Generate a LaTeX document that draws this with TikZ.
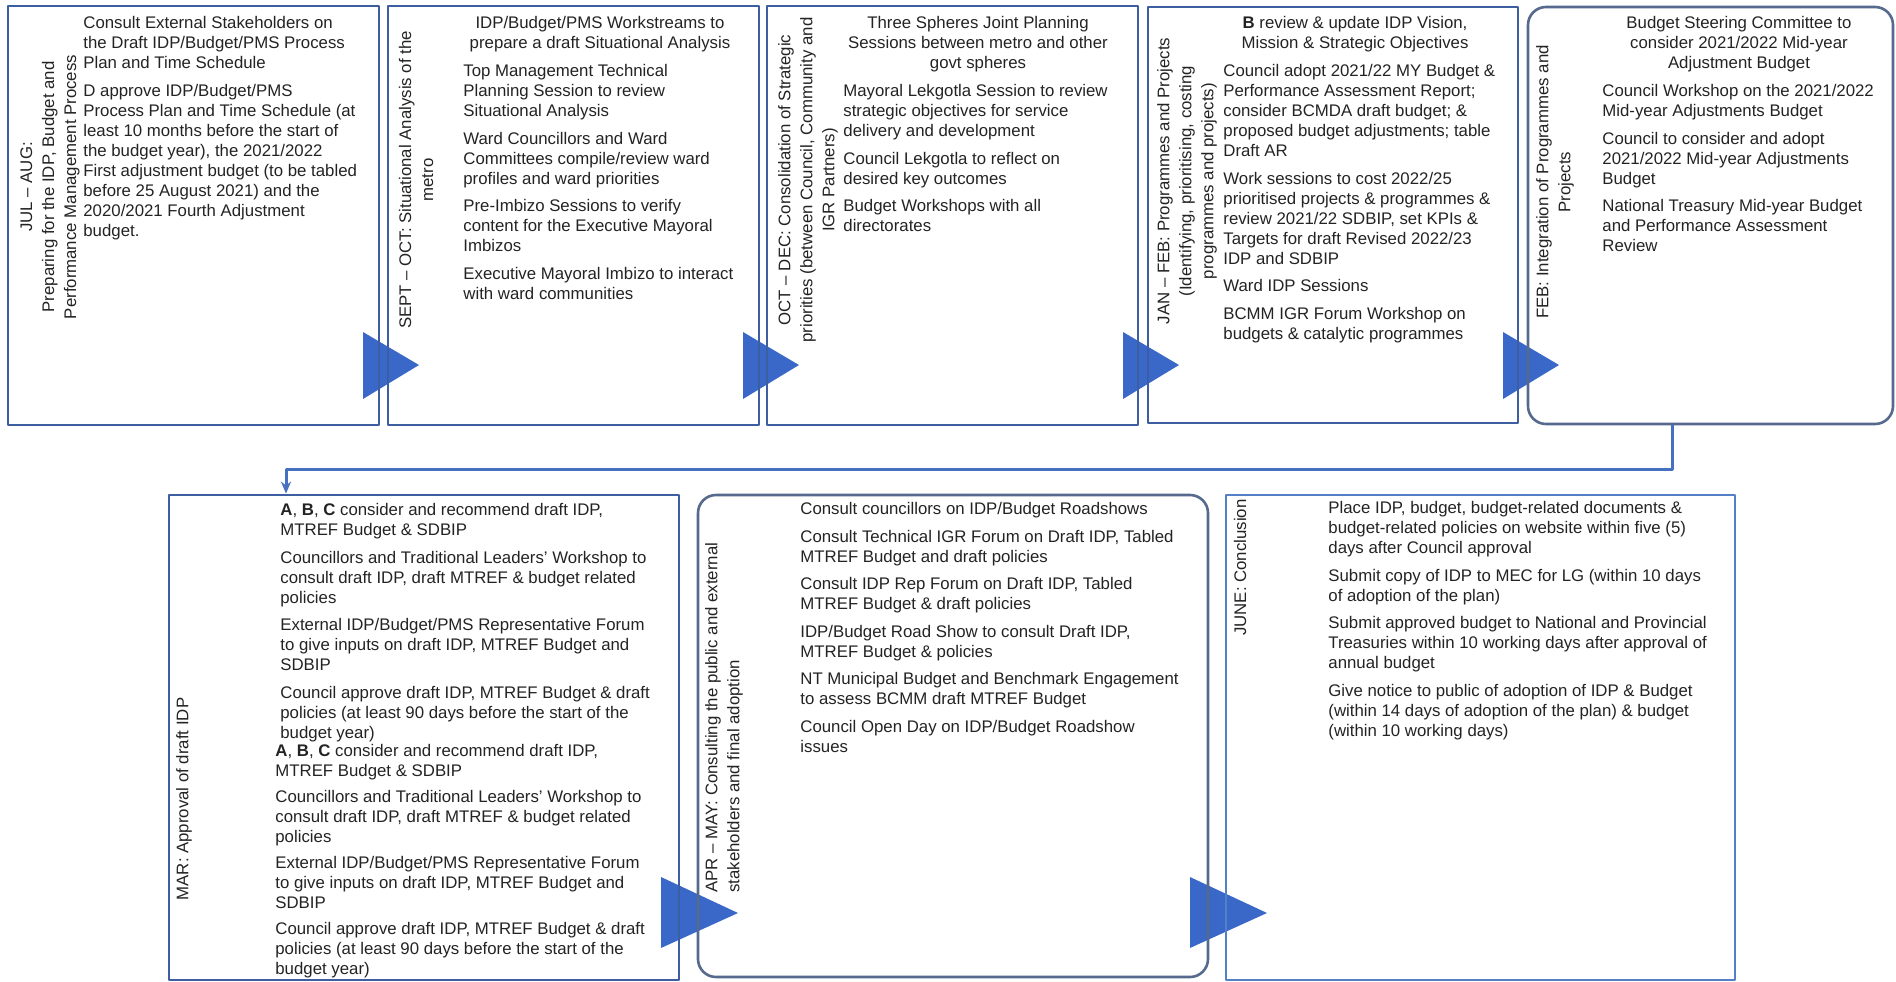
\documentclass[tikz,border=0pt]{standalone}
\usepackage{fontspec}
\setmainfont{Liberation Sans}
\usepackage{xcolor}
\usetikzlibrary{arrows.meta,fit}

\definecolor{boxblue}{RGB}{62,94,162}
\definecolor{junblue}{RGB}{84,128,200}
\definecolor{roundline}{RGB}{86,106,142}
\definecolor{tripblue}{RGB}{58,104,200}
\definecolor{linkblue}{RGB}{70,112,192}
\definecolor{ink}{RGB}{35,35,35}

\newcommand{\itemgap}{\\[3.8pt]}
\newcommand{\tightgap}{\\[3pt]}

\begin{document}
\begin{tikzpicture}[x=0.5pt,y=-0.5pt,>=Stealth,line join=round,
  stagebox/.style={draw=boxblue,line width=1.4pt,inner sep=0pt},
  roundbox/.style={draw=roundline,line width=1.3pt,rounded corners=9pt,inner sep=0pt},
  phase/.style={rotate=90,align=center,inner sep=0pt,text=ink,font=\fontsize{8.4}{11}\selectfont},
  steps/.style={anchor=north west,align=left,inner sep=0pt,text=ink,font=\fontsize{8.4}{10}\selectfont},
  lead/.style={anchor=north,align=center,inner sep=0pt,text=ink,font=\fontsize{8.4}{10}\selectfont},
  pointer/.style={fill=tripblue},
  link/.style={draw=linkblue,line width=1.5pt,-{Stealth[length=6pt,width=5pt]}}]
  \useasboundingbox (0,0) rectangle (1896,981);
  \fill[pointer] (363,332) -- (419,365) -- (363,399) -- cycle;
  \fill[pointer] (743,332) -- (799,365) -- (743,399) -- cycle;
  \fill[pointer] (1123,332) -- (1179,365) -- (1123,399) -- cycle;
  \fill[pointer] (1503,332) -- (1559,365) -- (1503,399) -- cycle;
  \fill[pointer] (661,877) -- (738,913) -- (661,948) -- cycle;
  \fill[pointer] (1190,877) -- (1267,913) -- (1190,948) -- cycle;
  \node[stagebox,fit={(8,6) (379,425)}] (jul) {};
  \node[stagebox,fit={(388,6) (759,425)}] (sep) {};
  \node[stagebox,fit={(767,6) (1138,425)}] (oct) {};
  \node[stagebox,fit={(1148,7) (1518,423)}] (jan) {};
  \node[roundbox,fit={(1528,7) (1893,424)}] (feb) {};
  \node[stagebox,fit={(169,495) (679,980)}] (mar) {};
  \node[roundbox,fit={(698,495) (1208,977)}] (apr) {};
  \node[stagebox,draw=junblue,fit={(1226,495) (1735,980)}] (jun) {};
  \coordinate (tap) at (1672,0);
  \coordinate (bend) at (286,469);
  \draw[link] (feb.south -| tap) |- (bend) -- (mar.north -| bend);
  \node[phase] (julT) at (50,187) {JUL \textendash{} AUG:\\Preparing for the IDP, Budget and\\Performance Management Process};
  \node[steps] (julS) at (83,16) {Consult External Stakeholders on\\the Draft IDP/Budget/PMS Process\\Plan and Time Schedule\itemgap D approve IDP/Budget/PMS\\Process Plan and Time Schedule (at\\least 10 months before the start of\\the budget year), the 2021/2022\\First adjustment budget (to be tabled\\before 25 August 2021) and the\\2020/2021 Fourth Adjustment\\budget.};
  \node[phase] (sepT) at (416,180) {SEPT \textendash{} OCT: Situational Analysis of the\\metro};
  \node[lead] (sepH) at (600,16) {IDP/Budget/PMS Workstreams to\\prepare a draft Situational Analysis};
  \node[steps] (sepS) at (463,64) {Top Management Technical\\Planning Session to review\\Situational Analysis\itemgap Ward Councillors and Ward\\Committees compile/review ward\\profiles and ward priorities\itemgap Pre-Imbizo Sessions to verify\\content for the Executive Mayoral\\Imbizos\itemgap Executive Mayoral Imbizo to interact\\with ward communities};
  \node[phase] (octT) at (808,180) {OCT \textendash{} DEC: Consolidation of Strategic\\priorities (between Council, Community and\\IGR Partners)};
  \node[lead] (octH) at (978,16) {Three Spheres Joint Planning\\Sessions between metro and other\\govt spheres};
  \node[steps] (octS) at (843,84) {Mayoral Lekgotla Session to review\\strategic objectives for service\\delivery and development\itemgap Council Lekgotla to reflect on\\desired key outcomes\itemgap Budget Workshops with all\\directorates};
  \node[phase] (janT) at (1187,181) {JAN \textendash{} FEB: Programmes and Projects\\(Identifying, prioritising, costing\\programmes and projects)};
  \node[lead] (janH) at (1355,16) {\textbf{B} review \& update IDP Vision,\\Mission \& Strategic Objectives};
  \node[steps] (janS) at (1223,64) {Council adopt 2021/22 MY Budget \&\\Performance Assessment Report;\\consider BCMDA draft budget; \&\\proposed budget adjustments; table\\Draft AR\itemgap Work sessions to cost 2022/25\\prioritised projects \& programmes \&\\review 2021/22 SDBIP, set KPIs \&\\Targets for draft Revised 2022/23\\IDP and SDBIP\itemgap Ward IDP Sessions\itemgap BCMM IGR Forum Workshop on\\budgets \& catalytic programmes};
  \node[phase] (febT) at (1555,182) {FEB: Integration of Programmes and\\Projects};
  \node[lead] (febH) at (1739,16) {Budget Steering Committee to\\consider 2021/2022 Mid-year\\Adjustment Budget};
  \node[steps] (febS) at (1602,84) {Council Workshop on the 2021/2022\\Mid-year Adjustments Budget\itemgap Council to consider and adopt\\2021/2022 Mid-year Adjustments\\Budget\itemgap National Treasury Mid-year Budget\\and Performance Assessment\\Review};
  \node[phase] (marT) at (184,799) {MAR: Approval of draft IDP};
  \node[steps] (marS) at (280,503) {\textbf{A}, \textbf{B}, \textbf{C} consider and recommend draft IDP,\\MTREF Budget \& SDBIP\itemgap Councillors and Traditional Leaders' Workshop to\\consult draft IDP, draft MTREF \& budget related\\policies\itemgap External IDP/Budget/PMS Representative Forum\\to give inputs on draft IDP, MTREF Budget and\\SDBIP\itemgap Council approve draft IDP, MTREF Budget \& draft\\policies (at least 90 days before the start of the\\budget year)};
  \node[steps] (marR) at (275,744) {\textbf{A}, \textbf{B}, \textbf{C} consider and recommend draft IDP,\\MTREF Budget \& SDBIP\tightgap Councillors and Traditional Leaders' Workshop to\\consult draft IDP, draft MTREF \& budget related\\policies\tightgap External IDP/Budget/PMS Representative Forum\\to give inputs on draft IDP, MTREF Budget and\\SDBIP\tightgap Council approve draft IDP, MTREF Budget \& draft\\policies (at least 90 days before the start of the\\budget year)};
  \node[phase,anchor=west,align=left] (aprT) at (724,893) {APR \textendash{} MAY: Consulting the public and external\\stakeholders and final adoption};
  \node[steps] (aprS) at (800,502) {Consult councillors on IDP/Budget Roadshows\itemgap Consult Technical IGR Forum on Draft IDP, Tabled\\MTREF Budget and draft policies\itemgap Consult IDP Rep Forum on Draft IDP, Tabled\\MTREF Budget \& draft policies\itemgap IDP/Budget Road Show to consult Draft IDP,\\MTREF Budget \& policies\itemgap NT Municipal Budget and Benchmark Engagement\\to assess BCMM draft MTREF Budget\itemgap Council Open Day on IDP/Budget Roadshow\\issues};
  \node[phase,anchor=east] (junT) at (1240,499) {JUNE: Conclusion};
  \node[steps] (junS) at (1328,501) {Place IDP, budget, budget-related documents \&\\budget-related policies on website within five (5)\\days after Council approval\itemgap Submit copy of IDP to MEC for LG (within 10 days\\of adoption of the plan)\itemgap Submit approved budget to National and Provincial\\Treasuries within 10 working days after approval of\\annual budget\itemgap Give notice to public of adoption of IDP \& Budget\\(within 14 days of adoption of the plan) \& budget\\(within 10 working days)};
\end{tikzpicture}
\end{document}
